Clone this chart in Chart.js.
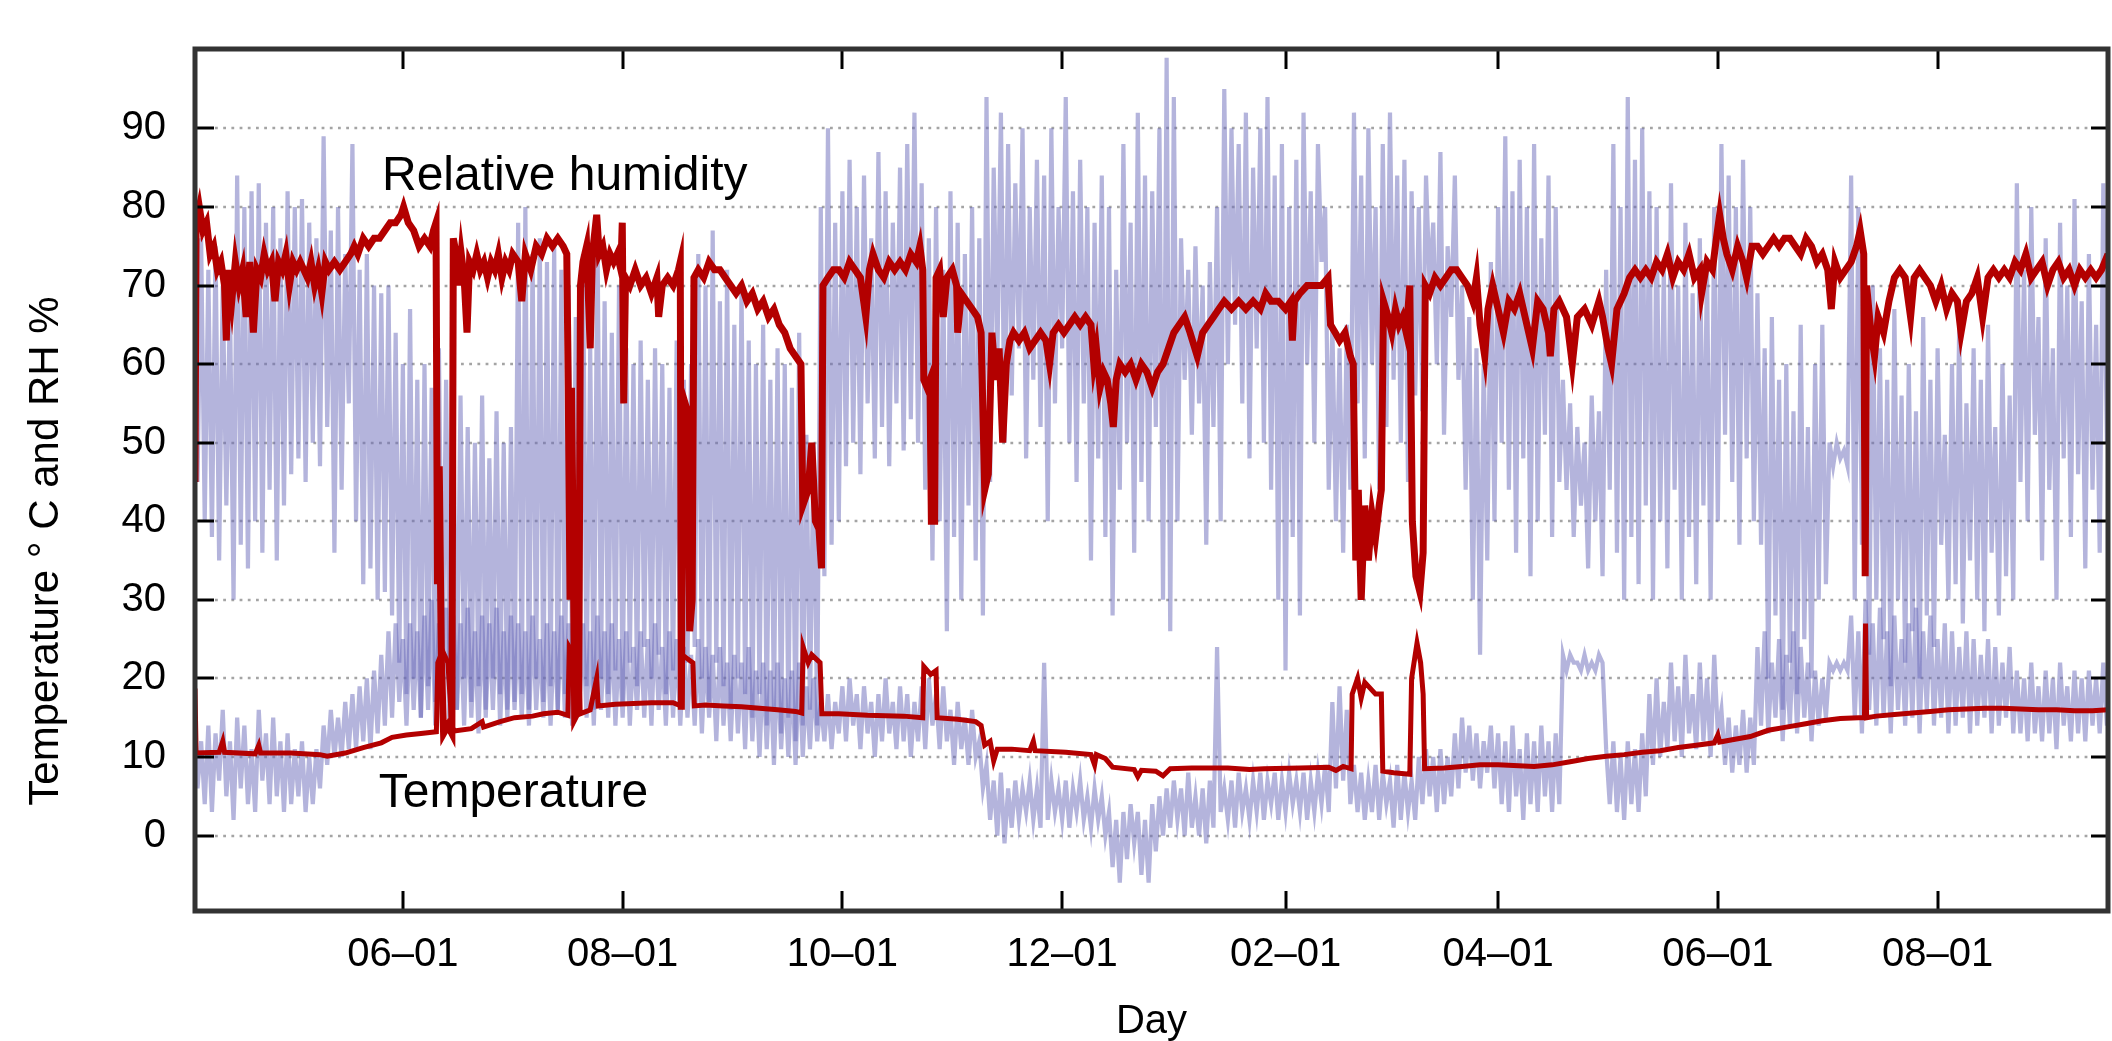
<!DOCTYPE html>
<html><head><meta charset="utf-8">
<script src="https://cdn.jsdelivr.net/npm/chart.js@4.4.0/dist/chart.umd.min.js"></script>
<style>html,body{margin:0;padding:0;background:#fff;}#wrap{width:2112px;height:1041px;}</style>
</head><body><div id="wrap"><canvas id="c" width="2112" height="1041"></canvas></div>
<script>
// ---- axis ranges (day 0 = 1 April, year 1) ----
const xMin = 3.3, xMax = 534.3;
const yMin = -9.6, yMax = 100.1;
const yTicks = [0, 10, 20, 30, 40, 50, 60, 70, 80, 90];
const monthTickDays = [61, 122, 183, 244, 306, 365, 426, 487];
const monthTickLabels = ['06–01', '08–01', '10–01', '12–01', '02–01', '04–01', '06–01', '08–01'];

// ---- outside sensor (blue): daily high / low read every 2 days, from day 3 ----
const blueStartDay = 3, blueStepDays = 2;
const rhOutHigh = [
 88,76,72,75,70,68,84,80,82,83, 78,80,76,82,80,81,78,76,89,77, 80,74,88,72,74,70,69,70,64,60,
 67,58,60,57,62,58,55,56,52,50, 56,48,54,50,52,78,80,74,76,73, 75,72,70,66,74,62,78,68,64,70,
 62,60,63,58,62,60,57,63,58,60, 74,70,77,68,72,65,70,63,60,65, 58,62,60,57,64,51,50,80,90,78,
 82,86,80,84,76,87,82,78,85,88, 92,83,76,80,72,82,78,74,80,76, 94,85,92,88,83,90,80,86,84,90,
 80,94,82,86,80,78,84,80,72,88, 78,92,84,82,90,99,94,76,72,75, 70,73,80,95,90,88,92,85,90,94,
 84,88,80,86,92,82,88,80,65,62, 65,92,84,90,80,88,92,84,86,82, 80,84,78,87,75,84,70,66,62,60,
 73,80,89,82,86,80,88,76,84,80, 58,55,52,50,56,54,72,88,80,94, 86,90,82,80,72,83,70,78,69,76,
 72,80,88,84,80,86,80,69,62,66, 58,60,54,65,52,60,65,50,50,49, 84,80,65,70,62,58,67,56,60,54,
 66,58,62,51,60,65,55,62,58,65, 52,60,56,83,72,80,66,76,62,78, 70,81,68,74,65,83
];
const rhOutLow = [
 45,40,38,35,42,30,37,34,40,36, 44,35,42,46,48,45,50,47,52,36, 44,55,40,32,34,30,31,28,22,18,
 20,15,19,17,20,18,16,20,17,19, 16,20,18,16,17,18,16,20,17,19, 16,18,20,17,19,16,20,18,21,17,
 22,19,24,20,23,18,21,19,22,24, 20,17,22,19,16,20,18,15,18,14, 16,13,15,12,14,16,14,33,37,40,
 47,50,46,55,48,52,47,55,49,53, 50,44,35,40,26,38,30,42,35,28, 45,60,50,56,62,48,58,52,40,55,
 62,50,45,55,35,48,38,28,44,50, 36,45,40,52,30,26,40,58,51,55, 37,52,40,60,65,55,48,62,50,44,
 30,21,38,28,60,50,73,44,40,36, 44,55,48,60,44,52,58,50,45,56, 54,70,60,51,66,58,44,30,23,35,
 40,50,44,36,48,33,40,51,38,45, 44,38,42,34,40,33,44,36,30,38, 32,42,30,40,34,44,30,38,32,42,
 30,40,51,45,37,48,40,37,20,28, 16,22,18,25,20,30,32,47,48,47, 30,37,23,30,25,19,30,22,26,20,
 28,24,37,30,32,27,35,30,26,36, 28,33,30,45,40,51,35,44,30,48, 38,46,34,44,36,50
];
const tempOutHigh = [
 15,12,14,13,16,12,15,14,11,16, 13,15,12,13,11,12,10,11,14,16, 15,17,18,19,20,21,23,26,27,25,
 27,26,28,30,27,29,28,27,29,26, 28,27,29,26,28,27,26,28,25,27, 26,28,27,25,27,26,28,26,27,25,
 26,24,26,25,27,24,26,25,24,23, 25,24,23,24,22,23,22,24,21,22, 21,22,20,21,22,19,20,17,18,17,
 19,20,18,19,17,18,20,17,19,18, 17,19,20,18,19,16,17,15,16,12, 9,7,8,6,7,6,7,6,22,7,
 6,7,6,7,5,6,5,3,2,3, 4,3,2,4,5,6,7,6,8,5, 6,7,24,6,7,8,6,7,8,7,
 8,7,8,7,8,7,8,9,17,19, 16,9,8,7,9,8,7,9,8,7, 10,11,10,11,10,13,15,14,13,12,
 14,13,12,14,11,13,12,14,12,13, 23,23,22,23,22,23,11,12,10,12, 11,13,18,20,17,22,19,23,18,22,
 20,23,16,15,14,16,15,24,26,22, 25,23,26,24,22,21,20,22,22,22, 28,26,30,27,29,26,28,25,27,29,
 26,28,25,27,26,24,26,25,23,25, 24,22,24,21,20,22,19,21,20,22, 19,21,20,21,20,22
];
const tempOutLow = [
 6,4,3,7,5,2,6,4,3,7, 4,5,3,4,5,3,4,6,9,10, 10,11,11,12,11,13,14,15,17,14,
 16,15,16,14,15,13,16,14,15,13, 15,16,14,15,16,15,14,16,15,14, 16,15,14,16,15,14,16,15,14,15,
 14,16,15,14,16,14,15,14,15,14, 13,15,12,14,12,13,11,12,10,11, 9,11,10,9,10,11,12,12,11,13,
 12,14,11,13,10,12,13,11,12,10, 12,11,14,11,12,9,11,9,10,6, 2,0,-1,1,2,3,2,1,2,3,
 2,1,3,2,1,2,0,-4,-6,-3, -1,-5,-6,-2,0,1,2,0,1,0, -1,1,3,2,1,3,2,3,2,4,
 2,3,4,3,2,3,4,3,6,7, 4,3,2,3,2,4,1,2,3,2, 4,5,3,4,5,6,8,7,6,8,
 6,4,3,5,2,4,3,5,3,4, 21,22,21,21,21,22,4,3,2,4, 3,5,9,10,11,12,10,13,11,12,
 10,13,9,8,9,8,9,14,13,15, 12,14,13,15,12,14,15,21,21,21, 15,13,16,14,15,13,16,14,15,13,
 16,14,15,13,14,15,13,14,15,13, 14,15,13,13,12,13,12,13,11,14, 12,13,12,14,13,14
];

// ---- inside sensor (red): [day, value] ----
const rhInside = [
[3.3,45],[3.6,78],[4.5,80],[5.5,77],[6.5,78],[7.5,74],[8.5,75],[9.5,72],[10.5,73],[11.5,70],[12,63],[12.5,72],[13.5,68],[14.5,73],[15.5,70],[16.5,72],[17.5,66],[18.5,73],[19.5,64],[20.5,72],
[21.5,71],[22.5,74],[23.5,72],[24.5,73],[25.5,68],[26.5,73],[27.5,72],[28.5,74],[29.5,70],[30.5,73],[31.5,72],[32.5,73],[33.5,72],[34.5,71],[35.5,73],[36.5,70],[37.5,72],[38.5,69],[39.5,73],[40.5,72],
[42,73],[43.5,72],[45,73],[46.5,74],[47.5,75],[48.5,74],[50,76],[51.5,75],[53,76],[54.5,76],[56,77],[57.5,78],[59,78],[60.5,79],[61.2,80],[62.5,78],[64,77],[65.5,75],[67,76],[68.5,75],[69.5,77],[70.2,78],
[70.6,32],[71.1,47],[71.7,22],[72.3,13],[73.5,14],[74.6,13],[75,76],[75.8,74],[76.5,70],[77.2,74],[78,71],[78.8,64],[79.5,73],[80.5,72],[81.5,74],[82.5,72],[83.5,73],[84.5,71],[85.5,73],[86.5,72],[87.5,74],[88.5,71],[89.5,73],[90.5,72],[91.5,74],
[93,73],[94,68],[95,74],[96.5,72],[98,75],[99.5,74],[101,76],[102.5,75],[104,76],[105.5,75],[106.5,74],[106.9,57],[107.4,30],[107.8,57],[108.3,36],[108.7,15],[109.8,16],[110.3,70],[111,73],[112,75],[113,62],[113.6,74],[114.8,79],[115.5,74],[116.5,75],[117.5,72],[118.5,74],[119.5,73],[120.5,74],[121.5,72],[121.9,78],[122.3,55],[122.8,71],
[124,70],[125.5,72],[127,70],[128.5,71],[130,69],[131.5,71],[132,66],[133,70],[134.5,71],[136,70],[137.5,72],[138,73],[138.3,16],[138.7,56],[140,54],[140.6,26],[141.3,30],[141.8,71],
[143,72],[144.5,71],[146,73],[147.5,72],[149,72],[150.5,71],[152,70],[153.5,69],[155,70],[156.5,68],[158,69],[159.5,67],[161,68],[162.5,66],[164,67],[165.5,65],[167,64],[168.5,62],[170,61],[171.5,60],[172,42],[173.5,44],[174.5,50],[175.5,40],[176.5,39],[177.2,34],[177.6,70],
[179,71],[180.5,72],[182,72],[183.5,71],[185,73],[186.5,72],[188,71],[189.5,66],[190.5,72],[191.5,74],[193,72],[194.5,71],[196,73],[197.5,72],[199,73],[200.5,72],[202,74],[203.5,73],[204.5,75],[205.3,72],[205.6,58],[206.5,57],[207.3,58],[207.7,40],[208.6,40],[209,71],
[210,72],[211,66],[212,71],[213.5,72],[214.7,70],[215,64],[216,69],[217.5,68],[219,67],[220.5,66],[221.5,64],[222.5,44],[223.5,46],[224.5,64],[225.5,58],[226.5,62],[227.5,50],[228.5,60],[229.5,63],[230.5,64],
[232,63],[233.5,64],[235,62],[236.5,63],[238,64],[239.5,63],[240.5,60],[241.5,64],[243,65],[244.5,64],[246,65],[247.5,66],[249,65],[250.5,66],[252,65],[252.8,60],[253.5,62],[254.5,57],[255.5,59],[256.5,58],[257.5,55],[258.2,52],[259,58],[260,60],
[261.5,59],[263,60],[264.5,58],[266,60],[267.5,59],[269,57],[270.5,59],[272,60],[273.5,62],[275,64],[276.5,65],[278,66],[279.5,64],[281.5,61],[283,64],[284.5,65],[286,66],[287.5,67],[289,68],[291,67],[293,68],[295,67],[297,68],[299,67],[300.5,69],[302,68],[304,68],[306,67],[307.5,68],[307.9,63],[308.5,68],
[310,69],[312,70],[314,70],[316,70],[317.8,71],[318.5,65],[319.8,64],[321,63],[322.5,64],[324,61],[324.8,60],[325.5,35],[326.2,44],[327,30],[328,42],[329,35],[330,41],[331,38],[332,42],[332.6,44],[333.2,68],[334.5,66],[335.5,64],[336.5,67],[337.5,65],[338.5,66],[339.5,64],[340.5,70],[341.2,40],[342.2,33],[343.3,31],[344.2,36],[344.8,70],
[346,69],[347.5,71],[349,70],[350.5,71],[352,72],[353.5,72],[355,71],[356.5,70],[358,68],[359,71],[360,65],[361.3,61],[362.2,67],[363.5,70],[364.5,68],[366.5,64],[368,68],[369.5,67],[371,69],[372.5,66],[374.5,62],[376,68],[377.5,67],[379,64],[379.5,61],[380.5,67],[382,68],[384,66],[385.6,60],[387,66],[389,67],[391,65],[393,68],[394,66],[395.5,62],[396.5,60],[398,67],[400,69],
[401.5,71],[403,72],[404.5,71],[406,72],[407.5,71],[409,73],[410.5,72],[412,74],[413.5,71],[415,73],[416.5,72],[418,74],[419.5,71],[421,72],[421.5,69],[423,73],[424.5,72],[425.6,76],[426.5,79],[427.5,76],[428.5,74],[430,72],[431.5,75],[433,73],[434,71],[435.5,75],[437,75],[438.5,74],[440,75],[441.5,76],[443,75],[444.5,76],[446,76],[447.5,75],[449,74],[450.5,76],[452,75],
[453.5,73],[455,74],[456.5,72],[457.5,67],[458.5,73],[460,71],[461.5,72],[463,73],[464.5,75],[465.5,77],[466.5,74],[466.9,33],[467.3,70],[468.5,64],[469.5,61],[470.5,66],[472,64],[473.5,68],[475,71],[476.5,72],[478,71],[479.5,66],[480.5,71],[482,72],[483.5,71],[485,70],[486.5,68],[488,70],[489.5,67],[491,69],[492.5,68],[493.5,64],[495,68],[496.5,69],[498,71],[499.5,66],[501,71],
[502.5,72],[504,71],[505.5,72],[507,71],[508.5,73],[510,72],[511.5,74],[513,71],[514.5,72],[516,73],[517.5,70],[519,72],[520.5,73],[522,71],[523.5,72],[525,70],[526.5,72],[528,71],[529.5,72],[531,71],[532.5,72],[534.3,74]
];
const tempInside = [
[3.3,18.7],[3.6,10.5],[10,10.6],[11,12],[11.5,10.6],[20,10.4],[21,11.5],[21.5,10.5],[30,10.5],[38,10.3],[40,10.1],[45,10.5],[50,11.2],[55,11.8],[58,12.5],[62,12.8],[66,13],[70.3,13.2],
[70.7,22],[72,23.5],[73.5,22],[74.6,14],[75.2,13.3],[80,13.6],[83,14.5],[83.4,13.8],[88,14.5],[92,15],[97,15.2],[100,15.5],[104,15.7],[106.8,15.3],[107.2,24],[109.8,22],[110.2,15.5],
[113,16],[114.8,20],[115.2,16.5],[120,16.7],[125,16.8],[130,16.9],[136,16.9],[138.1,16.5],[138.5,23],[141.5,22],[141.9,16.5],[145,16.6],[150,16.5],[155,16.4],[160,16.2],[165,16],[170,15.8],[171.7,15.6],
[172.1,24],[173.5,22],[174.5,23],[176.8,22],[177.3,15.5],[182,15.5],[190,15.3],[200,15.2],[205.3,15],[205.6,21.5],[207.5,20.5],[209,21],[209.3,15],[215,14.8],[220,14.5],[221.5,14],[222.5,11.5],[224,12],[225,9.5],[226,11],
[230,11],[235,10.8],[236,12],[236.5,10.8],[245,10.6],[252,10.3],[253,9],[253.5,10.3],[256,9.8],[258,8.7],[264,8.4],[265,7.5],[266,8.3],[270,8.2],[272,7.6],[274,8.5],[280,8.6],[290,8.6],[296,8.4],[300,8.5],[310,8.6],[318,8.7],[320,8.3],[322,8.8],[324.2,8.5],
[324.5,18],[326,20],[327,17.5],[328,19.5],[331,18],[332.6,18],[333,8.2],[336,8],[340.5,7.8],[341,20],[342.5,24.5],[343.5,22],[344.2,18],[344.6,8.5],[350,8.6],[355,8.8],[360,9],[365,9],[375,8.8],[380,9],[385,9.4],[390,9.8],[395,10.1],
[400,10.3],[405,10.6],[410,10.8],[415,11.2],[420,11.5],[425,11.8],[426,12.8],[426.5,11.9],[430,12.2],[435,12.6],[440,13.4],[445,13.8],[450,14.2],[455,14.6],[460,14.9],[465,15],[466.7,15],[467,27],[467.3,15],[470,15.2],[475,15.4],
[480,15.6],[485,15.8],[490,16],[495,16.1],[500,16.2],[505,16.2],[510,16.1],[515,16],[520,16],[525,15.9],[530,15.9],[534.3,16]
];

// ---- text annotations ----
const labelRH = { text: 'Relative humidity', day: 55.2, value: 82.1 };
const labelTemp = { text: 'Temperature', day: 54.3, value: 3.6 };
const xTitle = 'Day';
const yTitle = 'Temperature ° C and RH %';

const FONT = '"Liberation Sans", Arial, Helvetica, sans-serif';

function zigzag(high, low) {
  const pts = [];
  high.forEach((h, i) => {
    const d = blueStartDay + i * blueStepDays;
    pts.push({ x: d, y: h });
    pts.push({ x: d + 1, y: low[i] });
  });
  return pts;
}
const toXY = arr => arr.map(p => ({ x: p[0], y: p[1] }));

const decor = {
  id: 'decor',
  beforeDatasetsDraw(chart) {
    const { ctx, chartArea: a, scales: { y } } = chart;
    ctx.save();
    ctx.strokeStyle = '#a4a4a4';
    ctx.lineWidth = 2.6;
    ctx.setLineDash([2.8, 5.4]);
    yTicks.forEach(v => {
      const py = Math.round(y.getPixelForValue(v));
      ctx.beginPath(); ctx.moveTo(a.left + 20, py); ctx.lineTo(a.right - 18, py); ctx.stroke();
    });
    ctx.restore();
  },
  afterDatasetsDraw(chart) {
    const { ctx, chartArea: a, scales: { x, y } } = chart;
    ctx.save();
    const seg = (x1, y1, x2, y2) => { ctx.beginPath(); ctx.moveTo(x1, y1); ctx.lineTo(x2, y2); ctx.stroke(); };
    ctx.strokeStyle = '#000'; ctx.lineWidth = 3;
    yTicks.forEach(v => { const py = Math.round(y.getPixelForValue(v)); seg(a.left, py, a.left + 19, py); seg(a.right - 17, py, a.right, py); });
    monthTickDays.forEach(d => { const px = Math.round(x.getPixelForValue(d)); seg(px, a.bottom, px, a.bottom - 20); seg(px, a.top, px, a.top + 20); });
    ctx.strokeStyle = '#333'; ctx.lineWidth = 5;
    ctx.strokeRect(a.left, a.top, a.right - a.left, a.bottom - a.top);
    ctx.fillStyle = '#000';
    ctx.font = '48px ' + FONT; ctx.textAlign = 'left'; ctx.textBaseline = 'alphabetic';
    ctx.fillText(labelRH.text, x.getPixelForValue(labelRH.day), y.getPixelForValue(labelRH.value));
    ctx.fillText(labelTemp.text, x.getPixelForValue(labelTemp.day), y.getPixelForValue(labelTemp.value));
    ctx.font = '40px ' + FONT; ctx.textAlign = 'center';
    ctx.fillText(xTitle, (a.left + a.right) / 2, a.bottom + 122);
    ctx.translate(58, 551); ctx.rotate(-Math.PI / 2);
    ctx.font = '42px ' + FONT;
    ctx.fillText(yTitle, 0, 0);
    ctx.restore();
  }
};

const blueColor = 'rgba(105,105,185,0.5)';
new Chart(document.getElementById('c'), {
  type: 'line',
  data: {
    datasets: [
      { label: 'RH inside', data: toXY(rhInside), borderColor: '#b30000', borderWidth: 7, order: 0 },
      { label: 'Temperature inside', data: toXY(tempInside), borderColor: '#b30000', borderWidth: 5, order: 1 },
      { label: 'RH outside', data: zigzag(rhOutHigh, rhOutLow), borderColor: blueColor, borderWidth: 4.2, order: 2 },
      { label: 'Temperature outside', data: zigzag(tempOutHigh, tempOutLow), borderColor: blueColor, borderWidth: 4.2, order: 3 }
    ]
  },
  options: {
    responsive: false,
    devicePixelRatio: 1,
    animation: false,
    parsing: false,
    elements: { point: { radius: 0 }, line: { tension: 0, fill: false, borderJoinStyle: 'miter' } },
    layout: { padding: { top: 22, right: 4, left: 0, bottom: 0 } },
    plugins: { legend: { display: false }, tooltip: { enabled: false } },
    scales: {
      x: {
        type: 'linear', min: xMin, max: xMax,
        grid: { display: false, drawTicks: false }, border: { display: false },
        afterBuildTicks: s => { s.ticks = monthTickDays.map(v => ({ value: v })); },
        afterFit: s => { s.height = 130; },
        ticks: { autoSkip: false, maxRotation: 0, minRotation: 0, padding: 20, color: '#000',
          font: { family: FONT, size: 40, lineHeight: 1.2 },
          callback: v => monthTickLabels[monthTickDays.indexOf(v)] }
      },
      y: {
        type: 'linear', min: yMin, max: yMax,
        grid: { display: false, drawTicks: false }, border: { display: false },
        afterBuildTicks: s => { s.ticks = yTicks.map(v => ({ value: v })); },
        afterFit: s => { s.width = 195; },
        ticks: { padding: 29, color: '#000', font: { family: FONT, size: 40, lineHeight: 1 },
          callback: v => String(v) }
      }
    }
  },
  plugins: [decor]
});
</script>
</body></html>
